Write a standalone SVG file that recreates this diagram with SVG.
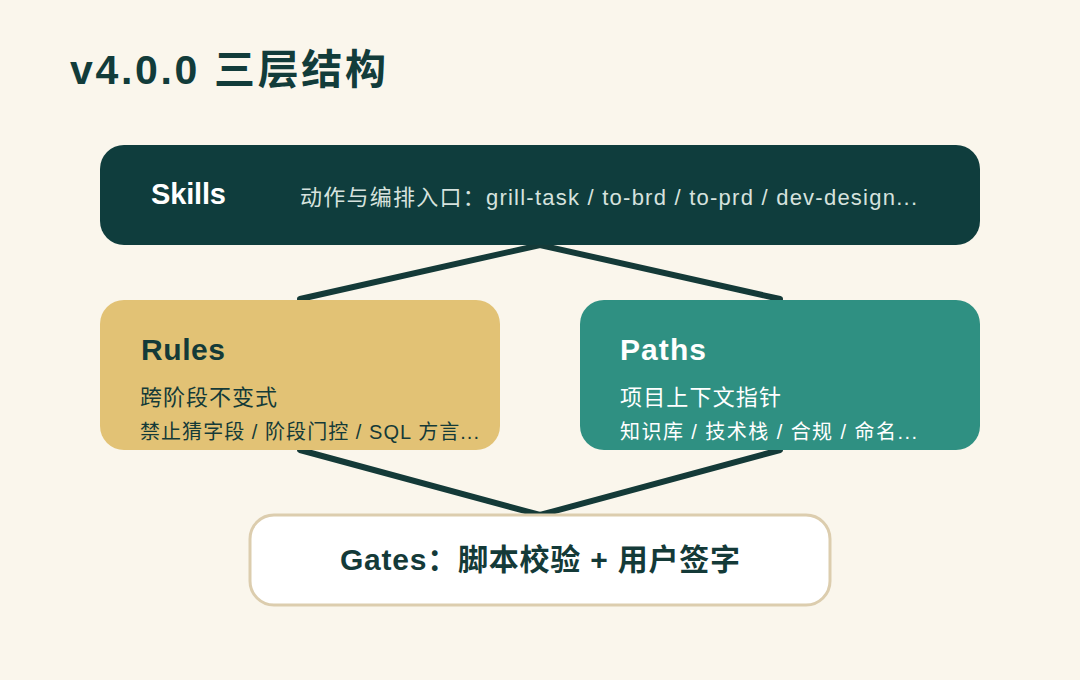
<svg xmlns="http://www.w3.org/2000/svg" width="1080" height="680" viewBox="0 0 1080 680">
<style>
text{font-family:"Liberation Sans","Noto Sans CJK SC",sans-serif}
.title{font-size:41px;font-weight:700;fill:#123C3A}
.h{font-size:30px;font-weight:700}
.d1{font-size:22px}
.d2{font-size:20px}
.edge{stroke:#143A38;stroke-width:6;stroke-linecap:round;fill:none}
</style>
<rect width="1080" height="680" fill="#FAF6EC"/>
<text class="title" x="70" y="84" textLength="316" lengthAdjust="spacing">v4.0.0 三层结构</text>
<g id="connectors">
<path class="edge" d="M300,299 L540,245 L780,299"/>
<path class="edge" d="M300,450 L540,515 L780,450"/>
</g>
<g id="skills">
<rect x="100" y="145" width="880" height="100" rx="24" fill="#0F3D3D"/>
<text class="h" x="151" y="204" fill="#FFFFFF" style="font-size:29px" textLength="75" lengthAdjust="spacing">Skills</text>
<text class="d1" x="300" y="205" fill="#D6E2DE" textLength="617" lengthAdjust="spacing">动作与编排入口：grill-task / to-brd / to-prd / dev-design...</text>
</g>
<g id="rules">
<rect x="100" y="300" width="400" height="150" rx="24" fill="#E2C275"/>
<text class="h" x="141" y="360" fill="#143A38" textLength="84" lengthAdjust="spacing">Rules</text>
<text class="d1" x="140" y="405" fill="#143A38" textLength="137" lengthAdjust="spacing">跨阶段不变式</text>
<text class="d2" x="140" y="439" fill="#143A38" textLength="339" lengthAdjust="spacing">禁止猜字段 / 阶段门控 / SQL 方言...</text>
</g>
<g id="paths">
<rect x="580" y="300" width="400" height="150" rx="24" fill="#2F9082"/>
<text class="h" x="620" y="360" fill="#FFFFFF" textLength="86" lengthAdjust="spacing">Paths</text>
<text class="d1" x="620" y="405" fill="#FFFFFF" textLength="161" lengthAdjust="spacing">项目上下文指针</text>
<text class="d2" x="620" y="439" fill="#FFFFFF" textLength="297" lengthAdjust="spacing">知识库 / 技术栈 / 合规 / 命名...</text>
</g>
<g id="gates">
<rect x="250" y="515" width="580" height="90" rx="24" fill="#FFFFFF" stroke="#DCCDAE" stroke-width="3"/>
<text class="h" x="340" y="570" fill="#143A38" textLength="400" lengthAdjust="spacing">Gates：脚本校验 + 用户签字</text>
</g>
</svg>
